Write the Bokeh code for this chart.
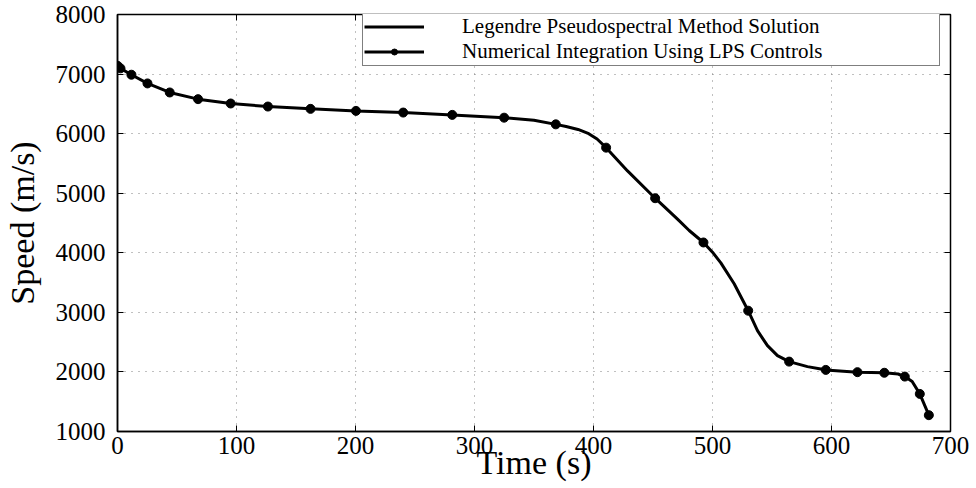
from bokeh.plotting import figure
from bokeh.models import Range1d, LinearAxis, FixedTicker, Legend, LegendItem
from bokeh.embed import file_html
from bokeh.resources import INLINE

# Legendre pseudospectral solution (smooth curve)
lps_time = [0, 2.5, 11.7, 25.2, 43.9, 67.7, 95.1, 126.4, 162.2, 200.4, 240.1, 281.3,
            324.9, 350.0, 368.3, 377.0, 387.0, 396.0, 403.0, 410.6, 428.6, 451.8,
            470.6, 480.4, 492.4, 500.0, 507.0, 518.2, 530.0, 537.8, 546.2, 554.6, 564.4,
            579.8, 591.0, 595.2, 621.8, 644.4, 656.0, 661.6, 667.8, 674.2, 681.8]
lps_speed = [7140, 7096, 6989, 6843, 6691, 6579, 6506, 6455, 6416, 6382, 6354, 6315,
             6268, 6225, 6156, 6120, 6070, 6000, 5910, 5765, 5374, 4916,
             4564, 4374, 4173, 4010, 3830, 3480, 3028, 2693, 2441, 2274, 2173,
             2089, 2050, 2034, 1996, 1986, 1965, 1922, 1838, 1631, 1274]

# Numerical integration using LPS controls (markers)
num_time = [0, 2.5, 11.7, 25.2, 43.9, 67.7, 95.1, 126.4, 162.2, 200.4, 240.1, 281.3,
            324.9, 368.3, 410.6, 451.8, 492.4, 530.0, 564.4, 595.2, 621.8, 644.4,
            661.6, 674.2, 681.8]
num_speed = [7140, 7096, 6989, 6843, 6691, 6579, 6506, 6455, 6416, 6382, 6354, 6315,
             6268, 6156, 5765, 4916, 4173, 3028, 2173, 2034, 1996, 1986,
             1922, 1631, 1274]

x_ticks = [0, 100, 200, 300, 400, 500, 600, 700]
y_ticks = [1000, 2000, 3000, 4000, 5000, 6000, 7000, 8000]

FONT = "Liberation Serif"

p = figure(width=976, height=488, output_backend="svg", toolbar_location=None,
           x_range=Range1d(0, 700), y_range=Range1d(1000, 8000),
           min_border_left=116, min_border_right=26, min_border_top=14,
           min_border_bottom=57)

p.outline_line_color = "black"
p.outline_line_width = 1.5

for ax in (p.xaxis[0], p.yaxis[0]):
    ax.major_label_text_font = FONT
    ax.major_label_text_font_size = "25px"
    ax.major_label_text_color = "black"
    ax.axis_label_text_font = FONT
    ax.axis_label_text_font_size = "34px"
    ax.axis_label_text_font_style = "normal"
    ax.axis_label_text_color = "black"
    ax.axis_line_color = "black"
    ax.axis_line_width = 1.5
    ax.major_tick_in = 6
    ax.major_tick_out = 0
    ax.major_tick_line_color = "black"
    ax.minor_tick_line_color = None

p.xaxis[0].ticker = FixedTicker(ticks=x_ticks)
p.yaxis[0].ticker = FixedTicker(ticks=y_ticks)
p.xaxis[0].axis_label = "Time (s)"
p.yaxis[0].axis_label = "Speed (m/s)"
p.xaxis[0].major_label_standoff = 5
p.yaxis[0].major_label_standoff = 12
p.xaxis[0].axis_label_standoff = -13
p.yaxis[0].axis_label_standoff = 12

# mirror ticks on top and right (no labels)
top = LinearAxis(ticker=FixedTicker(ticks=x_ticks), major_label_text_color=None,
                 major_label_text_font_size="1px",
                 major_tick_in=6, major_tick_out=0, minor_tick_line_color=None,
                 axis_line_color=None, major_label_standoff=0, axis_label_standoff=0)
right = LinearAxis(ticker=FixedTicker(ticks=y_ticks), major_label_text_color=None,
                   major_label_text_font_size="1px",
                   major_tick_in=6, major_tick_out=0, minor_tick_line_color=None,
                   axis_line_color=None, major_label_standoff=0, axis_label_standoff=0)
p.add_layout(top, "above")
p.add_layout(right, "right")

p.xgrid.ticker = FixedTicker(ticks=x_ticks)
p.ygrid.ticker = FixedTicker(ticks=y_ticks)
for g in (p.xgrid[0], p.ygrid[0]):
    g.grid_line_color = "#808080"
    g.grid_line_dash = "1 6"
    g.grid_line_width = 1

l1 = p.line(lps_time, lps_speed, line_color="black", line_width=3)
s2 = p.scatter(num_time, num_speed, marker="circle", size=9, fill_color="black",
               line_color="black")

legend = Legend(items=[
    LegendItem(label="Legendre Pseudospectral Method Solution", renderers=[l1]),
    LegendItem(label="Numerical Integration Using LPS Controls", renderers=[l1, s2]),
], location=(245, 365))
legend.label_text_font = FONT
legend.label_text_font_size = "21px"
legend.label_text_color = "black"
legend.glyph_width = 60
legend.glyph_height = 15
legend.label_height = 15
legend.label_standoff = 38
legend.label_width = 476
legend.padding = 1
legend.spacing = 0
legend.margin = 0
legend.border_line_color = "black"
legend.border_line_width = 1.5
legend.background_fill_alpha = 1
p.add_layout(legend)

open("out.html", "w").write(file_html(p, INLINE))
